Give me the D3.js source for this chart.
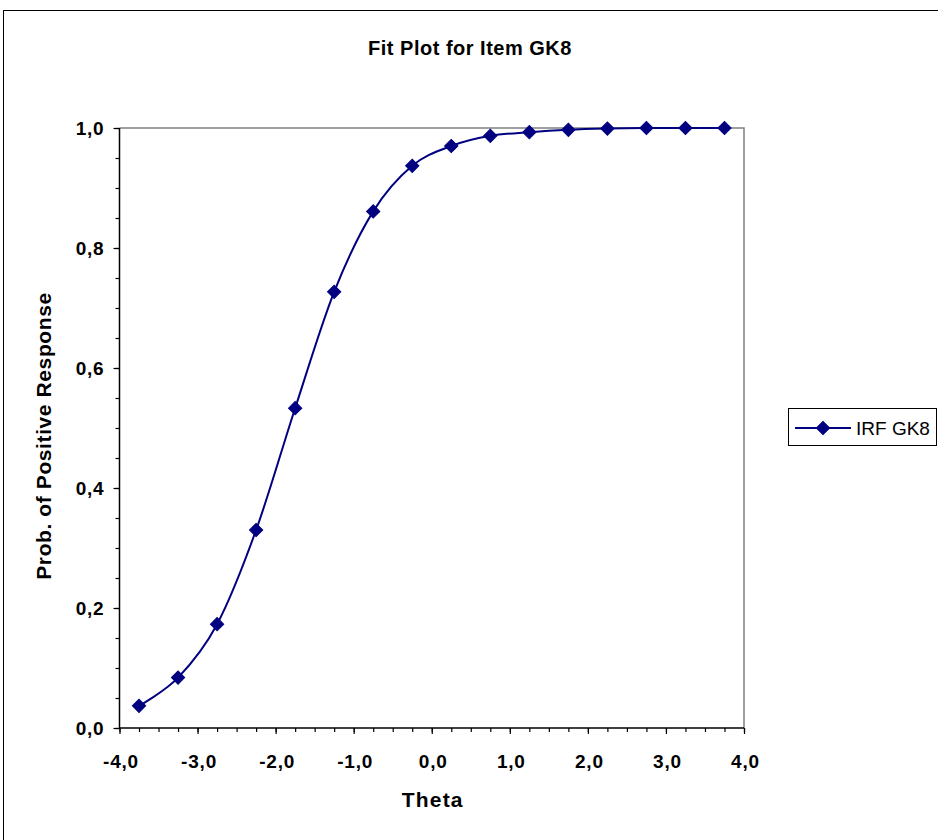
<!DOCTYPE html>
<html>
<head>
<meta charset="utf-8">
<script src="https://cdn.jsdelivr.net/npm/d3@7"></script>
<style>
  html, body { margin: 0; padding: 0; background: #fff; }
  svg { display: block; }
  text { font-family: "Liberation Sans", Arial, sans-serif; }
</style>
</head>
<body>
<svg id="chart" width="938" height="840"></svg>
<script>
// ---- data ----
const theta = [-3.75, -3.25, -2.75, -2.25, -1.75, -1.25, -0.75, -0.25, 0.25, 0.75, 1.25, 1.75, 2.25, 2.75, 3.25, 3.75];
const prob  = [0.037, 0.084, 0.173, 0.330, 0.533, 0.727, 0.861, 0.937, 0.970, 0.987, 0.993, 0.997, 0.999, 1.000, 1.000, 1.000];
const xTicks = [-4, -3, -2, -1, 0, 1, 2, 3, 4];
const yTicks = [0, 0.2, 0.4, 0.6, 0.8, 1.0];
const seriesName = "IRF GK8";
const titleText = "Fit Plot for Item GK8";
const xLabel = "Theta";
const yLabel = "Prob. of Positive Response";

const color = "#000080";
const svg = d3.select("#chart");

// outer chart border
svg.append("rect").attr("x", 3.5).attr("y", 10.5).attr("width", 940).attr("height", 840)
  .attr("fill", "#fff").attr("stroke", "#000").attr("stroke-width", 1);

const L = 119.5, R = 744, T = 128, B = 728;
const x = d3.scaleLinear().domain([-4, 4]).range([L, R]);
const y = d3.scaleLinear().domain([0, 1]).range([B, T]);

const fmt = d => d3.format(".1f")(d).replace(".", ",").replace("−", "-");

// plot area top/right border (gray)
svg.append("path")
  .attr("d", `M${L},${T}H${R}V${B}`)
  .attr("fill", "none").attr("stroke", "#808080").attr("stroke-width", 1.5);

// minor ticks
const xMinor = d3.range(-4, 4.001, 0.25);
const yMinor = d3.range(0, 1.001, 0.05);
const xAxisMinor = d3.axisBottom(x).tickValues(xMinor).tickSize(4).tickFormat("");
const yAxisMinor = d3.axisLeft(y).tickValues(yMinor).tickSize(4).tickFormat("");
svg.append("g").attr("transform", `translate(0,${B})`).call(xAxisMinor)
  .call(g => g.select(".domain").remove())
  .selectAll("line").attr("stroke", "#000").attr("stroke-width", 1.2);
svg.append("g").attr("transform", `translate(${L},0)`).call(yAxisMinor)
  .call(g => g.select(".domain").remove())
  .selectAll("line").attr("stroke", "#000").attr("stroke-width", 1.2);

// major axes
const xAxis = d3.axisBottom(x).tickValues(xTicks).tickSize(6).tickPadding(21).tickFormat(fmt);
const yAxis = d3.axisLeft(y).tickValues(yTicks).tickSize(6).tickPadding(9).tickFormat(fmt);

const gx = svg.append("g").attr("transform", `translate(0,${B})`).call(xAxis);
gx.select(".domain").attr("d", `M${L},0H${R}`).attr("stroke", "#000").attr("stroke-width", 1.5);
gx.selectAll("line").attr("stroke", "#000").attr("stroke-width", 1.2);
gx.selectAll("text").attr("font-size", 19).attr("font-weight", "bold").attr("fill", "#000")
  .attr("letter-spacing", 0.8).attr("dx", 1)
  .attr("font-family", "'Liberation Sans', Arial, sans-serif");

const gy = svg.append("g").attr("transform", `translate(${L},0)`).call(yAxis);
gy.select(".domain").attr("d", `M0,${B}V${T}`).attr("stroke", "#000").attr("stroke-width", 1.5);
gy.selectAll("line").attr("stroke", "#000").attr("stroke-width", 1.2);
gy.selectAll("text").attr("font-size", 19).attr("font-weight", "bold").attr("fill", "#000")
  .attr("letter-spacing", 0.8)
  .attr("font-family", "'Liberation Sans', Arial, sans-serif");

// data
const data = theta.map((t, i) => ({ t, p: prob[i] }));
const line = d3.line().x(d => x(d.t)).y(d => y(d.p)).curve(d3.curveCardinal.tension(0));
svg.append("path").datum(data).attr("d", line)
  .attr("fill", "none").attr("stroke", color).attr("stroke-width", 2);

const diamond = d3.symbol().type(d3.symbolSquare).size(88);
svg.append("g").selectAll("path").data(data).join("path")
  .attr("d", diamond)
  .attr("transform", d => `translate(${x(d.t)},${y(d.p)}) rotate(45)`)
  .attr("fill", color).attr("stroke", color).attr("stroke-width", 1);

// title
svg.append("text").attr("x", 470).attr("y", 55).attr("text-anchor", "middle")
  .attr("font-size", 20).attr("font-weight", "bold").attr("letter-spacing", 0.5).text(titleText);

// axis labels
svg.append("text").attr("x", (L + R) / 2 + 1).attr("y", 807).attr("text-anchor", "middle")
  .attr("font-size", 21).attr("font-weight", "bold").attr("letter-spacing", 1.2).text(xLabel);
svg.append("text").attr("transform", `translate(50.5,${(T + B) / 2 + 8}) rotate(-90)`)
  .attr("text-anchor", "middle").attr("font-size", 21).attr("font-weight", "bold")
  .attr("letter-spacing", 0.6).text(yLabel);

// legend
const lg = svg.append("g");
lg.append("rect").attr("x", 788.5).attr("y", 408.5).attr("width", 148).attr("height", 37)
  .attr("fill", "#fff").attr("stroke", "#000").attr("stroke-width", 1);
lg.append("line").attr("x1", 795).attr("x2", 851).attr("y1", 428).attr("y2", 428)
  .attr("stroke", color).attr("stroke-width", 2);
lg.append("path").attr("d", diamond).attr("transform", "translate(823,428) rotate(45)")
  .attr("fill", color).attr("stroke", color);
lg.append("text").attr("x", 856).attr("y", 434.5).attr("font-size", 19).text(seriesName);
</script>
</body>
</html>
